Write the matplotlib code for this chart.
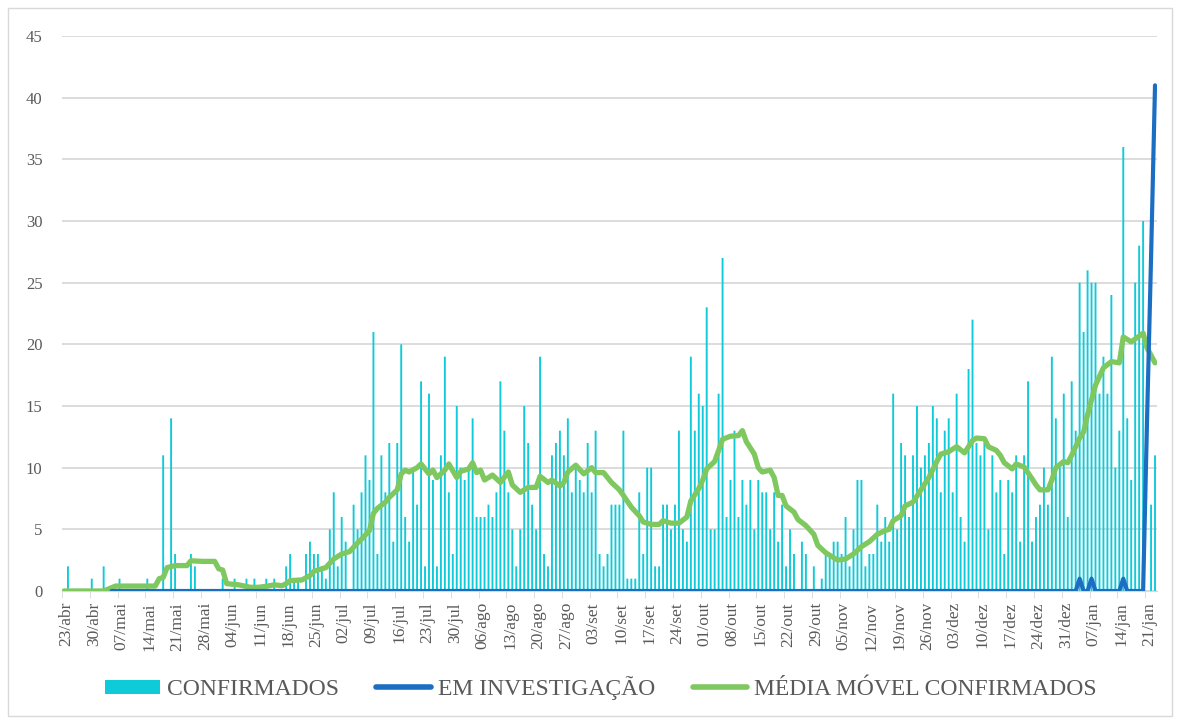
import matplotlib
matplotlib.use("Agg")
import matplotlib.pyplot as plt
from matplotlib.patches import Patch, Rectangle
from matplotlib.lines import Line2D

plt.rcParams['font.family'] = ['Liberation Serif', 'DejaVu Serif']

# casos confirmados por dia, de 23/abr (dia 0) a 23/jan (dia 275)
confirmados = [
    0, 2, 0, 0, 0, 0, 0, 1, 0, 0, 2, 0, 0, 0,
    1, 0, 0, 0, 0, 0, 0, 1, 0, 0, 0, 11, 0, 14,
    3, 0, 0, 0, 3, 2, 0, 0, 0, 0, 0, 0, 1, 0,
    0, 1, 0, 0, 1, 0, 1, 0, 0, 1, 0, 1, 0, 0,
    2, 3, 1, 1, 0, 3, 4, 3, 3, 2, 1, 5, 8, 2,
    6, 4, 0, 7, 5, 8, 11, 9, 21, 3, 11, 8, 12, 4,
    12, 20, 6, 4, 10, 7, 17, 2, 16, 9, 2, 11, 19, 8,
    3, 15, 10, 9, 10, 14, 6, 6, 6, 7, 6, 8, 17, 13,
    8, 5, 2, 5, 15, 12, 7, 5, 19, 3, 2, 11, 12, 13,
    11, 14, 8, 10, 9, 8, 12, 8, 13, 3, 2, 3, 7, 7,
    7, 13, 1, 1, 1, 8, 3, 10, 10, 2, 2, 7, 7, 5,
    7, 13, 5, 4, 19, 13, 16, 15, 23, 5, 5, 16, 27, 6,
    9, 13, 6, 9, 7, 9, 5, 9, 8, 8, 5, 8, 4, 7,
    2, 5, 3, 0, 4, 3, 0, 2, 0, 1, 3, 3, 4, 4,
    3, 6, 2, 5, 9, 9, 2, 3, 3, 7, 4, 6, 4, 16,
    5, 12, 11, 6, 11, 15, 10, 11, 12, 15, 14, 8, 13, 14,
    8, 16, 6, 4, 18, 22, 12, 11, 12, 5, 11, 8, 9, 3,
    9, 8, 11, 4, 11, 17, 4, 6, 7, 10, 7, 19, 14, 10,
    16, 6, 17, 13, 25, 21, 26, 25, 25, 16, 19, 16, 24, 10,
    13, 36, 14, 9, 25, 28, 30, 0, 7, 11,
]

# em investigacao (zero fora dos pontos listados)
inv_dias = [12, 255, 256, 257, 258, 259, 260, 266, 267, 268, 272, 273, 274, 275]
inv_valores = [0, 0, 1, 0, 0, 1, 0, 0, 1, 0, 0, 14, 27, 41]

# media movel
mm_dias = [0, 10, 13, 23, 24, 25, 26, 28, 31, 32, 35, 38, 39, 40, 41, 44, 47, 49,
           51, 53, 55, 56, 57, 60, 62, 63, 66, 68, 70, 72, 74, 75, 77, 78, 79, 81,
           82, 84, 85, 86, 87, 89, 90, 92, 93, 94, 96, 97, 99, 100, 102, 103, 104,
           105, 106, 108, 110, 112, 113, 115, 117, 119, 120, 122, 123, 125, 126,
           127, 129, 131, 133, 134, 136, 138, 140, 141, 143, 145, 146, 148, 150,
           151, 153, 155, 157, 158, 160, 161, 162, 164, 166, 168, 170, 171, 172,
           174, 175, 176, 178, 179, 180, 181, 182, 184, 185, 187, 189, 190, 192,
           194, 195, 197, 199, 201, 203, 205, 207, 208, 209, 211, 212, 214, 216,
           218, 220, 221, 223, 225, 227, 229, 230, 232, 233, 235, 236, 237, 239,
           240, 242, 244, 245, 246, 248, 249, 250, 252, 253, 254, 256, 257, 258,
           260, 261, 262, 264, 266, 267, 269, 272, 273, 275]
mm_valores = [0, 0, 0.4, 0.4, 1.0, 1.1, 1.9, 2.06, 2.06, 2.45, 2.4, 2.4, 1.8, 1.7, 0.6,
              0.5, 0.3, 0.3, 0.38, 0.5, 0.43, 0.6, 0.84, 0.9, 1.25, 1.6, 1.9, 2.6,
              3.0, 3.2, 3.9, 4.2, 4.9, 6.3, 6.7, 7.2, 7.6, 8.2, 9.5, 9.8, 9.65, 10.0,
              10.3, 9.5, 9.8, 9.2, 9.8, 10.3, 9.2, 9.7, 9.9, 10.4, 9.6, 9.8, 9.0,
              9.4, 8.8, 9.65, 8.6, 8.0, 8.4, 8.4, 9.3, 8.8, 9.0, 8.5, 8.8, 9.65,
              10.2, 9.5, 10.0, 9.6, 9.6, 8.8, 8.2, 7.75, 6.8, 6.1, 5.6, 5.4, 5.4,
              5.7, 5.5, 5.5, 6.0, 7.3, 8.3, 9.0, 9.9, 10.5, 12.3, 12.55, 12.6, 13.0,
              12.1, 11.1, 10.0, 9.65, 9.8, 9.2, 7.75, 7.75, 6.9, 6.4, 5.8, 5.3, 4.6,
              3.7, 3.1, 2.7, 2.5, 2.6, 3.0, 3.6, 4.0, 4.6, 4.9, 5.0, 5.7, 6.1, 6.9,
              7.2, 8.2, 9.2, 10.5, 11.1, 11.3, 11.7, 11.2, 12.2, 12.4, 12.35, 11.7,
              11.4, 11.0, 10.4, 9.9, 10.3, 10.05, 9.1, 8.6, 8.2, 8.2, 9.0, 10.0,
              10.5, 10.4, 11.0, 12.4, 12.9, 14.3, 16.7, 17.4, 18.1, 18.6, 18.5,
              20.6, 20.2, 20.9, 19.7, 18.5]

rotulos = ['23/abr', '30/abr', '07/mai', '14/mai', '21/mai', '28/mai', '04/jun',
           '11/jun', '18/jun', '25/jun', '02/jul', '09/jul', '16/jul', '23/jul',
           '30/jul', '06/ago', '13/ago', '20/ago', '27/ago', '03/set', '10/set',
           '17/set', '24/set', '01/out', '08/out', '15/out', '22/out', '29/out',
           '05/nov', '12/nov', '19/nov', '26/nov', '03/dez', '10/dez', '17/dez',
           '24/dez', '31/dez', '07/jan', '14/jan', '21/jan']

c_bar = '#0FCBD9'
c_inv = '#1B6EC2'
c_mm = '#7EC85F'
c_txt = '#595959'
c_grid = '#D9D9D9'

n = len(confirmados)
fig = plt.figure(figsize=(11.79, 7.22), dpi=100)
ax = fig.add_axes([62/1179, 1 - 591/722, (1157 - 62)/1179, (591 - 36)/722])

# snap=False deixa todas as barras com a mesma largura
barras = ax.bar(range(n), confirmados, width=0.48, color=c_bar, linewidth=0, zorder=2)
for b in barras:
    b.set_snap(False)
ax.plot(mm_dias, mm_valores, color=c_mm, lw=3.8, solid_joinstyle='round',
        solid_capstyle='round', zorder=4)
ax.plot(inv_dias, inv_valores, color=c_inv, lw=3.0, solid_joinstyle='round',
        solid_capstyle='round', zorder=5)

ax.set_xlim(-0.5, n - 0.5)
ax.set_ylim(0, 45)
ax.set_yticks(range(0, 46, 5))
ax.yaxis.grid(True, color=c_grid, lw=1.3)
ax.set_axisbelow(True)
for s in ['top', 'right', 'left']:
    ax.spines[s].set_visible(False)
ax.spines['bottom'].set_color(c_grid)
ax.tick_params(axis='y', length=0, pad=14, labelsize=12, labelcolor=c_txt)

ax.set_xticks([7 * k + 0.5 for k in range(len(rotulos))])
ax.set_xticklabels(rotulos, rotation=90, fontsize=12.5, color=c_txt)
ax.set_xticks([7 * k - 0.5 for k in range(len(rotulos))], minor=True)
ax.tick_params(axis='x', which='major', length=0, pad=8)
ax.tick_params(axis='x', which='minor', length=5, color=c_grid)

handles = [Patch(facecolor=c_bar, edgecolor='none'),
           Line2D([], [], color=c_inv, lw=4, solid_capstyle='round'),
           Line2D([], [], color=c_mm, lw=4, solid_capstyle='round')]
fig.legend(handles, ['CONFIRMADOS', 'EM INVESTIGAÇÃO', 'MÉDIA MÓVEL CONFIRMADOS'],
           loc='center', bbox_to_anchor=(601/1179, 1 - 688/722), ncol=3, frameon=False,
           fontsize=17, handlelength=2.3, handleheight=0.55, handletextpad=0.3,
           columnspacing=1.6, labelcolor=c_txt)

fig.patches.append(Rectangle((8/1179, 6/722), 1164/1179, 708/722, transform=fig.transFigure,
                             fill=False, edgecolor=c_grid, lw=1))

fig.savefig('out.png', dpi=100)
